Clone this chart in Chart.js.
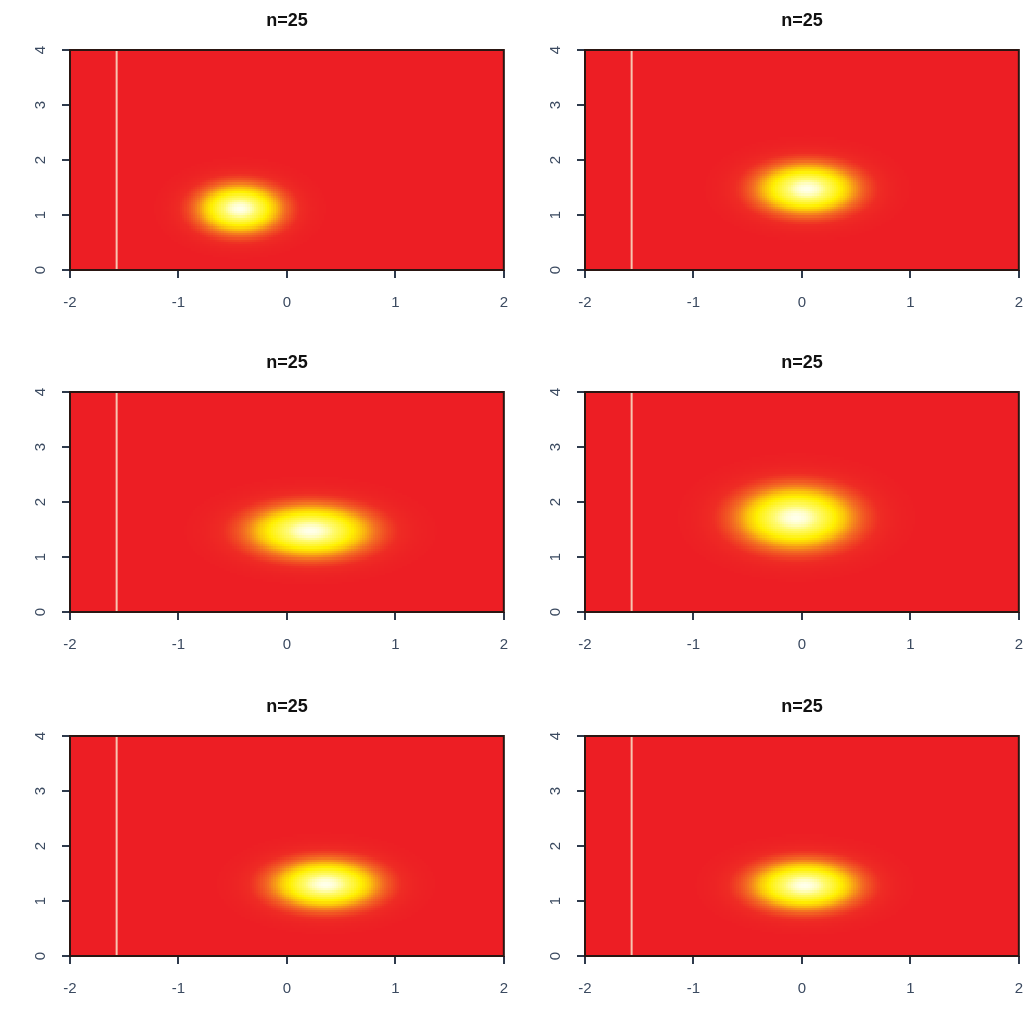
<!DOCTYPE html>
<html>
<head>
<meta charset="utf-8">
<script src="https://cdn.jsdelivr.net/npm/chart.js@4.4.1/dist/chart.umd.min.js"></script>
<style>
  html, body { margin: 0; padding: 0; background: #fff; }
  #wrap { position: relative; width: 1023px; height: 1012px; overflow: hidden; }
  #wrap canvas { position: absolute; }
</style>
</head>
<body>
<div id="wrap"></div>
<script>
"use strict";

// density peaks for each panel (row by row, left to right)
var panelTitles = ['n=25', 'n=25', 'n=25', 'n=25', 'n=25', 'n=25'];
var peakX   = [-0.43, 0.05, 0.22, -0.05, 0.36, 0.03];
var peakY   = [ 1.12, 1.48, 1.48,  1.72, 1.31, 1.29];
var spreadX = [ 0.26, 0.31, 0.38,  0.36, 0.33, 0.33];
var spreadY = [ 0.30, 0.31, 0.32,  0.38, 0.30, 0.30];

// vertical reference line
var cutX = -1.57;

var xTicks = [-2, -1, 0, 1, 2];
var yTicks = [0, 1, 2, 3, 4];

// canvas placement
var panelLeft  = [0, 515];
var plotRight  = [503, 503];
var panelTop   = [0, 342, 686];

// heat colour ramp, red -> yellow -> white
var rampStops = [
	[0.00, 237, 30, 36],
	[0.10, 238, 44, 36],
	[0.28, 243, 112, 34],
	[0.46, 251, 196, 12],
	[0.60, 255, 240, 0],
	[0.85, 255, 250, 110],
	[1.00, 255, 255, 235]
];

function heatColor(t) {
	for (var i = 1; i < rampStops.length; i++) {
		var a = rampStops[i - 1], b = rampStops[i];
		if (t <= b[0]) {
			var f = (t - a[0]) / (b[0] - a[0]);
			return 'rgb(' + Math.round(a[1] + f * (b[1] - a[1])) + ',' +
				Math.round(a[2] + f * (b[2] - a[2])) + ',' +
				Math.round(a[3] + f * (b[3] - a[3])) + ')';
		}
	}
	var l = rampStops[rampStops.length - 1];
	return 'rgb(' + l[1] + ',' + l[2] + ',' + l[3] + ')';
}

var heatPlugin = {
	id: 'heat',
	beforeDatasetsDraw: function (chart, args, opts) {
		var ctx = chart.ctx, area = chart.chartArea;
		var xs = chart.scales.x, ys = chart.scales.y;
		var dx = 0.02, dy = 0.04;
		ctx.save();
		ctx.beginPath();
		ctx.rect(area.left, area.top, area.right - area.left, area.bottom - area.top);
		ctx.clip();
		ctx.fillStyle = heatColor(0);
		ctx.fillRect(area.left, area.top, area.right - area.left, area.bottom - area.top);
		for (var gx = xs.min; gx < xs.max - 1e-9; gx += dx) {
			var px0 = Math.floor(xs.getPixelForValue(gx));
			var px1 = Math.ceil(xs.getPixelForValue(gx + dx));
			var ux = (gx + dx / 2 - opts.cx) / opts.sx;
			for (var gy = ys.min; gy < ys.max - 1e-9; gy += dy) {
				var uy = (gy + dy / 2 - opts.cy) / opts.sy;
				var v = Math.exp(-0.5 * (ux * ux + uy * uy));
				if (v < 0.01) continue;
				var py0 = Math.floor(ys.getPixelForValue(gy + dy));
				var py1 = Math.ceil(ys.getPixelForValue(gy));
				ctx.fillStyle = heatColor(v);
				ctx.fillRect(px0, py0, px1 - px0, py1 - py0);
			}
		}
		ctx.restore();
	}
};

// frame round the plot and the panel title centred over it
var boxPlugin = {
	id: 'box',
	afterDatasetsDraw: function (chart, args, opts) {
		var ctx = chart.ctx, a = chart.chartArea;
		ctx.save();
		ctx.strokeStyle = '#2a1612';
		ctx.lineWidth = 2;
		ctx.strokeRect(a.left, a.top, a.right - a.left, a.bottom - a.top);
		ctx.fillStyle = '#111';
		ctx.font = 'bold 18px "Liberation Sans", Arial, sans-serif';
		ctx.textAlign = 'center';
		ctx.textBaseline = 'middle';
		ctx.fillText(opts.text, (a.left + a.right) / 2, 21);
		ctx.restore();
	}
};

function BuildPanel(k) {
	var col = k % 2, row = Math.floor(k / 2);
	var canvas = document.createElement('canvas');
	// chart.js keeps ~21px to the right of the plot for the last x label
	canvas.width = plotRight[col] + 21;
	canvas.height = 326;
	canvas.style.left = panelLeft[col] + 'px';
	canvas.style.top = panelTop[row] + 'px';
	document.getElementById('wrap').appendChild(canvas);

	new Chart(canvas, {
		type: 'scatter',
		data: {
			datasets: [{
				data: [{ x: cutX, y: yTicks[0] }, { x: cutX, y: yTicks[yTicks.length - 1] }],
				showLine: true,
				borderColor: 'rgb(248,196,176)',
				borderWidth: 2,
				pointRadius: 0
			}]
		},
		plugins: [heatPlugin, boxPlugin],
		options: {
			responsive: false,
			animation: false,
			layout: { padding: { top: 50, left: 0, right: 0, bottom: 0 } },
			plugins: {
				legend: { display: false },
				tooltip: { enabled: false },
				title: { display: false },
				box: { text: panelTitles[k] },
				heat: { cx: peakX[k], cy: peakY[k], sx: spreadX[k], sy: spreadY[k] }
			},
			scales: {
				x: {
					type: 'linear',
					min: xTicks[0],
					max: xTicks[xTicks.length - 1],
					afterBuildTicks: function (s) { s.ticks = xTicks.map(function (v) { return { value: v }; }); },
					afterFit: function (s) { s.height = 56; },
					grid: { drawOnChartArea: false, tickLength: 8, color: '#2e3a4c', lineWidth: 2 },
					border: { display: false },
					ticks: {
						color: '#3b4a60',
						padding: 16,
						maxRotation: 0,
						font: { family: 'Liberation Sans, Arial, sans-serif', size: 15 }
					}
				},
				y: {
					type: 'linear',
					min: yTicks[0],
					max: yTicks[yTicks.length - 1],
					afterBuildTicks: function (s) { s.ticks = yTicks.map(function (v) { return { value: v }; }); },
					afterFit: function (s) { s.width = 70; },
					grid: { drawOnChartArea: false, tickLength: 8, color: '#2e3a4c', lineWidth: 2 },
					border: { display: false },
					ticks: {
						color: '#3b4a60',
						padding: 17,
						minRotation: 90,
						maxRotation: 90,
						crossAlign: 'center',
						font: { family: 'Liberation Sans, Arial, sans-serif', size: 15 }
					}
				}
			}
		}
	});
}

for (var k = 0; k < panelTitles.length; k++) {
	BuildPanel(k);
}
</script>
</body>
</html>
